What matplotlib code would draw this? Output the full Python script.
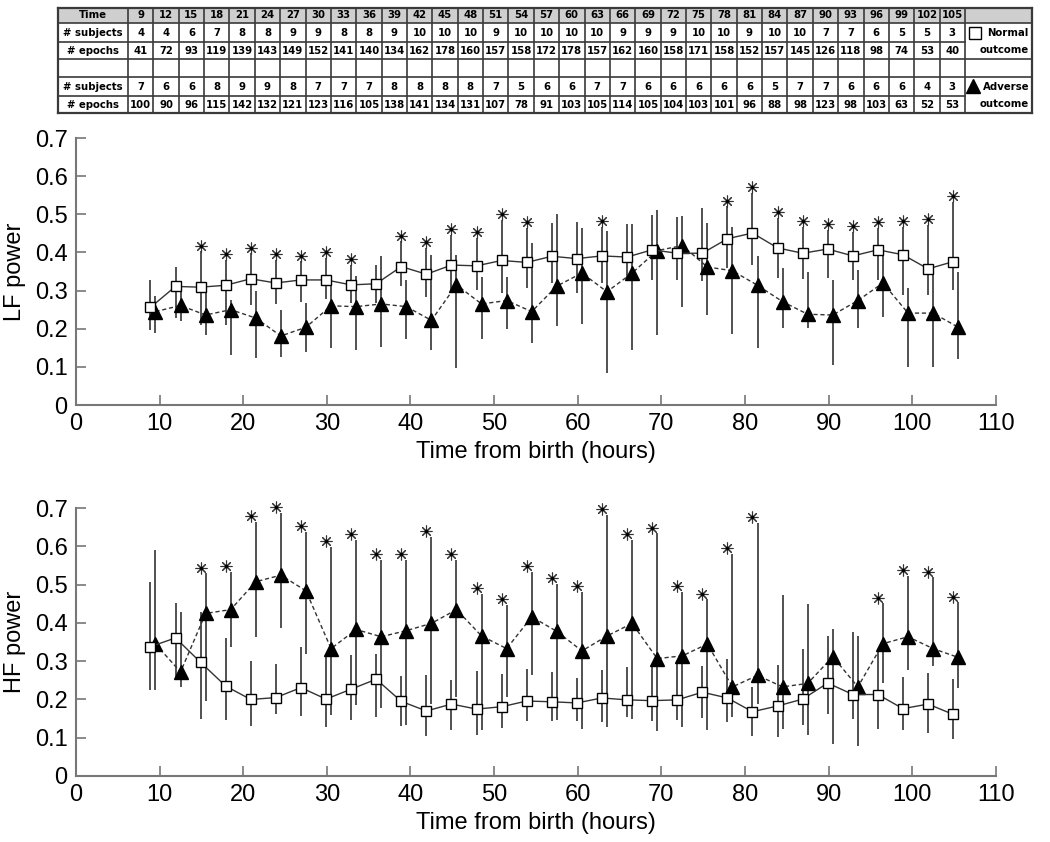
import matplotlib.pyplot as plt
from matplotlib.patches import Rectangle
import numpy as np

plt.rcParams['font.family'] = ['Liberation Sans', 'DejaVu Sans']

# recording times (hours from birth)
times = [9, 12, 15, 18, 21, 24, 27, 30, 33, 36, 39, 42, 45, 48, 51, 54, 57,
         60, 63, 66, 69, 72, 75, 78, 81, 84, 87, 90, 93, 96, 99, 102, 105]

# table counts
subj_normal = [4, 4, 6, 7, 8, 8, 9, 9, 8, 8, 9, 10, 10, 10, 9, 10, 10,
               10, 10, 9, 9, 9, 10, 10, 9, 10, 10, 7, 7, 6, 5, 5, 3]
epochs_normal = [41, 72, 93, 119, 139, 143, 149, 152, 141, 140, 134, 162, 178, 160, 157, 158, 172,
                 178, 157, 162, 160, 158, 171, 158, 152, 157, 145, 126, 118, 98, 74, 53, 40]
subj_adverse = [7, 6, 6, 8, 9, 9, 8, 7, 7, 7, 8, 8, 8, 8, 7, 5, 6,
                6, 7, 7, 6, 6, 6, 6, 6, 5, 7, 7, 6, 6, 6, 4, 3]
epochs_adverse = [100, 90, 96, 115, 142, 132, 121, 123, 116, 105, 138, 141, 134, 131, 107, 78, 91,
                  103, 105, 114, 105, 104, 103, 101, 96, 88, 98, 123, 98, 103, 63, 52, 53]

# LF power
lf_normal = [0.256, 0.311, 0.309, 0.314, 0.331, 0.320, 0.328, 0.328, 0.315, 0.318, 0.363, 0.343, 0.367,
             0.365, 0.379, 0.374, 0.390, 0.384, 0.391, 0.388, 0.407, 0.398, 0.398, 0.436, 0.451, 0.412,
             0.398, 0.409, 0.391, 0.407, 0.394, 0.357, 0.376]
lf_normal_hi = [0.327, 0.362, 0.403, 0.381, 0.398, 0.381, 0.377, 0.385, 0.368, 0.368, 0.429, 0.412, 0.447,
                0.438, 0.486, 0.464, 0.477, 0.479, 0.468, 0.475, 0.499, 0.493, 0.517, 0.521, 0.556, 0.490,
                0.468, 0.460, 0.455, 0.464, 0.468, 0.473, 0.532]
lf_normal_lo = [0.197, 0.228, 0.210, 0.210, 0.263, 0.265, 0.269, 0.278, 0.267, 0.267, 0.311, 0.283, 0.294,
                0.302, 0.293, 0.306, 0.321, 0.293, 0.320, 0.333, 0.327, 0.328, 0.324, 0.359, 0.368, 0.333,
                0.330, 0.333, 0.327, 0.328, 0.289, 0.289, 0.302]
lf_adverse = [0.245, 0.261, 0.236, 0.250, 0.228, 0.181, 0.204, 0.260, 0.258, 0.265, 0.258, 0.222, 0.315,
              0.265, 0.274, 0.245, 0.312, 0.346, 0.297, 0.346, 0.405, 0.418, 0.362, 0.352, 0.314, 0.271,
              0.238, 0.236, 0.274, 0.320, 0.241, 0.241, 0.204]
lf_adverse_hi = [0.285, 0.300, 0.293, 0.276, 0.300, 0.250, 0.267, 0.337, 0.339, 0.390, 0.328, 0.394, 0.394,
                 0.337, 0.337, 0.425, 0.502, 0.464, 0.457, 0.475, 0.512, 0.495, 0.477, 0.468, 0.390, 0.359,
                 0.350, 0.327, 0.355, 0.390, 0.306, 0.355, 0.350]
lf_adverse_lo = [0.190, 0.220, 0.184, 0.131, 0.123, 0.127, 0.140, 0.149, 0.143, 0.153, 0.172, 0.144, 0.096,
                 0.172, 0.199, 0.162, 0.206, 0.213, 0.083, 0.144, 0.184, 0.258, 0.236, 0.187, 0.149, 0.201,
                 0.201, 0.105, 0.201, 0.232, 0.099, 0.099, 0.120]
lf_sig = [15, 18, 21, 24, 27, 30, 33, 39, 42, 45, 48, 51, 54, 63,
          78, 81, 84, 87, 90, 93, 96, 99, 102, 105]

# HF power
hf_normal = [0.338, 0.361, 0.297, 0.235, 0.200, 0.205, 0.231, 0.201, 0.227, 0.253, 0.195, 0.170, 0.188,
             0.175, 0.181, 0.196, 0.194, 0.191, 0.204, 0.199, 0.197, 0.199, 0.219, 0.204, 0.168, 0.183,
             0.201, 0.243, 0.213, 0.213, 0.176, 0.188, 0.161]
hf_normal_hi = [0.508, 0.451, 0.429, 0.361, 0.300, 0.292, 0.336, 0.320, 0.316, 0.318, 0.261, 0.264, 0.250,
                0.275, 0.266, 0.281, 0.272, 0.255, 0.277, 0.285, 0.287, 0.298, 0.287, 0.305, 0.233, 0.290,
                0.333, 0.366, 0.377, 0.329, 0.259, 0.268, 0.253]
hf_normal_lo = [0.224, 0.250, 0.150, 0.146, 0.131, 0.161, 0.156, 0.127, 0.146, 0.154, 0.130, 0.104, 0.121,
                0.108, 0.126, 0.144, 0.144, 0.143, 0.140, 0.153, 0.143, 0.146, 0.152, 0.140, 0.105, 0.102,
                0.133, 0.161, 0.148, 0.124, 0.120, 0.113, 0.096]
hf_adverse = [0.345, 0.272, 0.425, 0.435, 0.508, 0.525, 0.484, 0.333, 0.383, 0.364, 0.380, 0.399, 0.435,
              0.366, 0.333, 0.416, 0.378, 0.327, 0.366, 0.399, 0.307, 0.314, 0.345, 0.233, 0.263, 0.233,
              0.242, 0.312, 0.233, 0.346, 0.364, 0.333, 0.310]
hf_adverse_hi = [0.592, 0.429, 0.530, 0.534, 0.665, 0.687, 0.639, 0.599, 0.617, 0.565, 0.565, 0.626, 0.565,
                 0.477, 0.447, 0.534, 0.502, 0.482, 0.682, 0.617, 0.634, 0.482, 0.462, 0.580, 0.661, 0.473,
                 0.449, 0.383, 0.366, 0.451, 0.523, 0.519, 0.454]
hf_adverse_lo = [0.224, 0.233, 0.196, 0.338, 0.364, 0.388, 0.318, 0.159, 0.185, 0.179, 0.133, 0.189, 0.207,
                 0.120, 0.207, 0.264, 0.146, 0.124, 0.128, 0.150, 0.118, 0.128, 0.121, 0.154, 0.189, 0.124,
                 0.106, 0.083, 0.078, 0.242, 0.277, 0.288, 0.229]
hf_sig = [15, 18, 21, 24, 27, 30, 33, 36, 39, 42, 45, 48, 51, 54, 57, 60, 63,
          66, 69, 72, 75, 78, 81, 96, 99, 102, 105]

ytick_vals = [0, 0.1, 0.2, 0.3, 0.4, 0.5, 0.6, 0.7]
ytick_labels = ['0', '0.1', '0.2', '0.3', '0.4', '0.5', '0.6', '0.7']
xtick_vals = [0, 10, 20, 30, 40, 50, 60, 70, 80, 90, 100, 110]

fig = plt.figure(figsize=(10.5, 8.42), dpi=100)

ink = '#333333'
axis_col = '#777777'


def panel(ax, ylabel, n, n_hi, n_lo, a, a_hi, a_lo, sig):
    t = np.array(times, dtype=float)
    n, n_hi, n_lo = np.array(n), np.array(n_hi), np.array(n_lo)
    a, a_hi, a_lo = np.array(a), np.array(a_hi), np.array(a_lo)
    xn = t - 0.1
    xa = t + 0.5
    ax.errorbar(xn, n, yerr=[n - n_lo, n_hi - n], fmt='none', ecolor=ink, elinewidth=1.2, capsize=0, zorder=2)
    ax.errorbar(xa, a, yerr=[a - a_lo, a_hi - a], fmt='none', ecolor=ink, elinewidth=1.2, capsize=0, zorder=2)
    ax.plot(xn, n, '-', color=ink, lw=1.0, marker='s', ms=7, mfc='white', mec='black', mew=1.0, zorder=4)
    ax.plot(xa, a, color=ink, lw=1.0, ls=(0, (3, 2)), marker='^', ms=10.5, mfc='black', mec='black', zorder=3)
    idx = [times.index(s) for s in sig]
    top = np.maximum(n_hi, a_hi)[idx] + 0.015
    ax.plot(xn[idx], top, ls='none', marker=(8, 2, 0), ms=8.5, mec=ink, mew=0.8, zorder=5, clip_on=False)
    ax.plot(xn[idx], top, ls='none', marker='.', ms=3, color='black', zorder=5, clip_on=False)

    ax.set_xlim(0, 110)
    ax.set_ylim(0, 0.7)
    ax.set_xticks(xtick_vals)
    ax.set_yticks(ytick_vals)
    ax.set_yticklabels(ytick_labels)
    for s in ['top', 'right']:
        ax.spines[s].set_visible(False)
    for s in ['left', 'bottom']:
        ax.spines[s].set_color(axis_col)
        ax.spines[s].set_linewidth(1.5)
    ax.tick_params(direction='in', length=7, width=1.2, color=axis_col, labelsize=17, pad=6)
    ax.set_xlabel('Time from birth (hours)', fontsize=17, labelpad=4)
    ax.set_ylabel(ylabel, fontsize=17, labelpad=6)


ax1 = fig.add_axes([0.0724, 0.519, 0.876, 0.317])
panel(ax1, 'LF power', lf_normal, lf_normal_hi, lf_normal_lo,
      lf_adverse, lf_adverse_hi, lf_adverse_lo, lf_sig)
ax2 = fig.add_axes([0.0724, 0.0784, 0.876, 0.318])
panel(ax2, 'HF power', hf_normal, hf_normal_hi, hf_normal_lo,
      hf_adverse, hf_adverse_hi, hf_adverse_lo, hf_sig)

# table on top, drawn in pixel coordinates
tab = fig.add_axes([0, 0, 1, 1], zorder=-1)
tab.set_xlim(0, 1050)
tab.set_ylim(842, 0)
tab.axis('off')

x0, x_lab, x_leg, x1 = 58, 128, 965, 1032
rows = [8, 23, 42, 59, 77, 96, 113]
cw = (x_leg - x_lab) / len(times)
line_col = '#3a3a3a'

tab.add_patch(Rectangle((x0, rows[0]), x1 - x0, rows[1] - rows[0], fc='#cfcfcf', ec='none'))
# horizontal lines
for i, y in enumerate(rows):
    if i in (2, 5):
        tab.plot([x0, x_leg], [y, y], color=line_col, lw=1.2)
    else:
        tab.plot([x0, x1], [y, y], color=line_col, lw=1.6 if i in (0, 6) else 1.2)
# vertical lines
for k in range(len(times) + 1):
    xx = x_lab + k * cw
    tab.plot([xx, xx], [rows[0], rows[-1]], color=line_col, lw=1.2)
for xx in (x0, x1):
    tab.plot([xx, xx], [rows[0], rows[-1]], color=line_col, lw=1.6)

fs = 7.3
tfont = dict(fontsize=fs, fontweight='bold', family='DejaVu Sans', ha='center', va='center')
labels = ['Time', '# subjects', '# epochs', '', '# subjects', '# epochs']
for r, lab in enumerate(labels):
    yc = (rows[r] + rows[r + 1]) / 2
    tab.text((x0 + x_lab) / 2, yc, lab, **tfont)

row_vals = [times, subj_normal, epochs_normal, None, subj_adverse, epochs_adverse]
for r, vals in enumerate(row_vals):
    if vals is None:
        continue
    yc = (rows[r] + rows[r + 1]) / 2
    for k, v in enumerate(vals):
        tab.text(x_lab + (k + 0.5) * cw, yc, str(v), **tfont)

# legend cells
lfont = dict(fontsize=fs, fontweight='bold', family='DejaVu Sans', ha='right', va='center')
tab.plot([975], [33], marker='s', ms=8, mfc='white', mec='black', mew=1.0)
tab.text(1029, 33, 'Normal', **lfont)
tab.text(1029, 50, 'outcome', **lfont)
tab.plot([973], [86], marker='^', ms=9.5, mfc='black', mec='black')
tab.text(1029, 87, 'Adverse', **lfont)
tab.text(1029, 104, 'outcome', **lfont)

fig.savefig('out.png', dpi=100)
